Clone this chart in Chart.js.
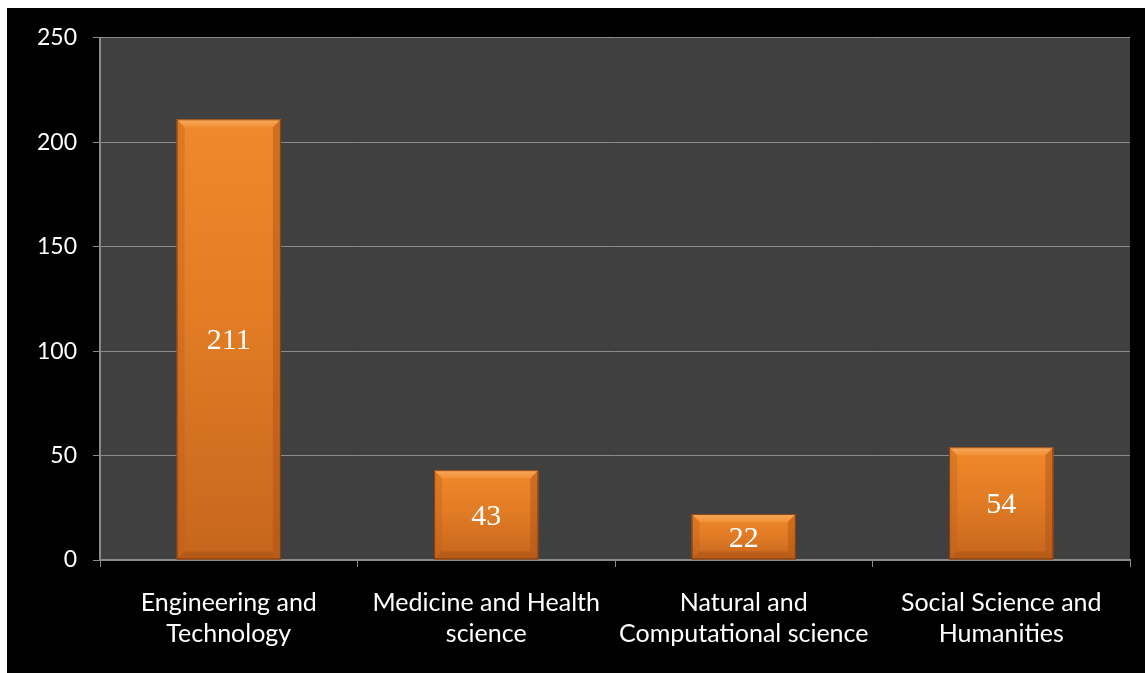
<!DOCTYPE html>
<html>
<head>
<meta charset="utf-8">
<script src="https://cdn.jsdelivr.net/npm/chart.js@4"></script>
<style>
  html, body { margin: 0; padding: 0; background: #ffffff; }
  #wrap { position: absolute; left: 7px; top: 8px; width: 1138px; height: 665px; background: #000000; }
  canvas { display: block; }
</style>
</head>
<body>
<div id="wrap"><canvas id="c" width="1138" height="665"></canvas></div>
<script>
// Publications per research field
const categories = [
  ['Engineering and', 'Technology'],
  ['Medicine and Health', 'science'],
  ['Natural and', 'Computational science'],
  ['Social Science and', 'Humanities']
];
const counts = [211, 43, 22, 54];
const yTicks = [0, 50, 100, 150, 200, 250];

// Plot-area background
const plotBackground = {
  id: 'plotBackground',
  beforeDraw(chart) {
    const { ctx, chartArea: a } = chart;
    ctx.save();
    ctx.fillStyle = '#404040';
    ctx.fillRect(a.left, a.top, a.right - a.left, a.bottom - a.top);
    ctx.restore();
  }
};

// Bevelled orange bars with value labels in the middle
const bevelBars = {
  id: 'bevelBars',
  afterDatasetsDraw(chart) {
    const { ctx } = chart;
    const meta = chart.getDatasetMeta(0);
    meta.data.forEach((bar, i) => {
      const { x, y, base, width } = bar.getProps(['x', 'y', 'base', 'width'], true);
      const l = x - width / 2, r = x + width / 2, t = y, b = base;
      const h = b - t;
      const bv = Math.min(8, h / 3);
      ctx.save();
      // body gradient
      const g = ctx.createLinearGradient(0, t, 0, b);
      g.addColorStop(0, '#F0892B');
      g.addColorStop(0.45, '#E27C25');
      g.addColorStop(1, '#C6661E');
      ctx.fillStyle = g;
      ctx.fillRect(l, t, width, h);
      // top bevel
      const gt = ctx.createLinearGradient(0, t, 0, t + bv);
      gt.addColorStop(0, '#F9A85A');
      gt.addColorStop(1, '#F39138');
      ctx.fillStyle = gt;
      ctx.beginPath();
      ctx.moveTo(l, t); ctx.lineTo(r, t); ctx.lineTo(r - bv, t + bv); ctx.lineTo(l + bv, t + bv); ctx.closePath();
      ctx.fill();
      // left bevel
      ctx.fillStyle = 'rgba(190, 95, 25, 0.35)';
      ctx.beginPath();
      ctx.moveTo(l, t); ctx.lineTo(l + bv, t + bv); ctx.lineTo(l + bv, b - bv); ctx.lineTo(l, b); ctx.closePath();
      ctx.fill();
      // right bevel
      ctx.fillStyle = 'rgba(170, 80, 20, 0.45)';
      ctx.beginPath();
      ctx.moveTo(r, t); ctx.lineTo(r - bv, t + bv); ctx.lineTo(r - bv, b - bv); ctx.lineTo(r, b); ctx.closePath();
      ctx.fill();
      // bottom bevel
      ctx.fillStyle = 'rgba(150, 70, 15, 0.35)';
      ctx.beginPath();
      ctx.moveTo(l, b); ctx.lineTo(l + bv, b - bv); ctx.lineTo(r - bv, b - bv); ctx.lineTo(r, b); ctx.closePath();
      ctx.fill();
      // outline
      ctx.strokeStyle = 'rgba(110, 50, 10, 0.8)';
      ctx.lineWidth = 1;
      ctx.strokeRect(l + 0.5, t + 0.5, width - 1, h - 1);
      // value label
      ctx.fillStyle = '#ffffff';
      ctx.font = '30px "Liberation Serif", "Times New Roman", serif';
      ctx.textAlign = 'center';
      ctx.textBaseline = 'middle';
      ctx.fillText(String(counts[i]), x, (t + b) / 2 + 2);
      ctx.restore();
    });
  }
};

const fontFamily = 'Lato, "Liberation Sans", sans-serif';

new Chart(document.getElementById('c'), {
  type: 'bar',
  data: {
    labels: categories,
    datasets: [{
      data: counts,
      backgroundColor: 'rgba(0,0,0,0)',
      borderWidth: 0,
      categoryPercentage: 0.405,
      barPercentage: 1.0
    }]
  },
  options: {
    responsive: false,
    animation: false,
    layout: { padding: { top: 29, right: 15, left: 0, bottom: 0 } },
    plugins: { legend: { display: false }, tooltip: { enabled: false } },
    scales: {
      x: {
        offset: true,
        grid: { offset: true, drawOnChartArea: false, drawTicks: true, tickLength: 7, color: '#8a8a8a', lineWidth: 1 },
        border: { color: '#8a8a8a', width: 2 },
        ticks: { color: '#ffffff', font: { family: fontFamily, size: 25, lineHeight: 1.24 }, padding: 20, maxRotation: 0, autoSkip: false },
        afterFit(scale) { scale.height = 113; }
      },
      y: {
        min: 0,
        max: 250,
        afterBuildTicks(scale) { scale.ticks = yTicks.map(v => ({ value: v })); },
        grid: { color: '#8a8a8a', lineWidth: 1, drawTicks: true, tickLength: 7 },
        border: { color: '#8a8a8a', width: 2 },
        ticks: { color: '#ffffff', font: { family: fontFamily, size: 23 }, padding: 16 },
        afterFit(scale) { scale.width = 93; }
      }
    }
  },
  plugins: [plotBackground, bevelBars]
});
</script>
</body>
</html>
